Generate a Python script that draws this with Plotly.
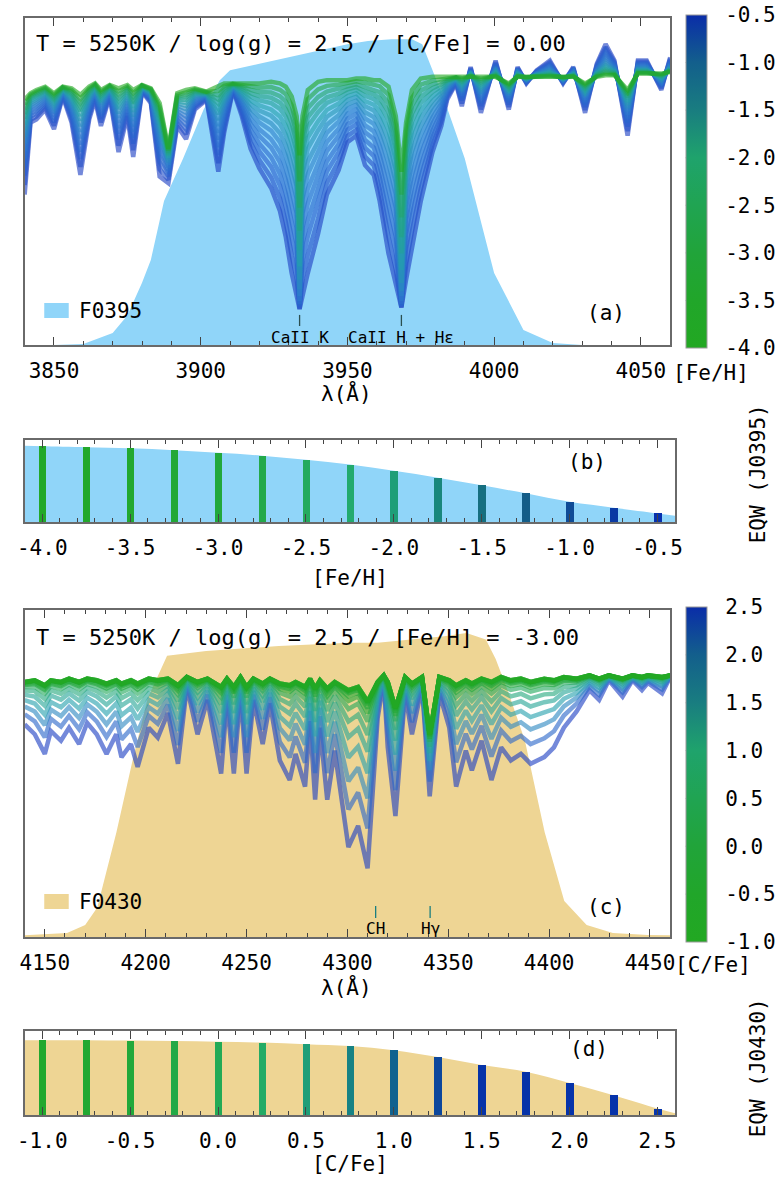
import numpy as np
import plotly.graph_objects as go
from plotly.colors import sample_colorscale

W, H = 782, 1185
MONO = "DejaVu Sans Mono"

# ---------------- data ----------------
feh_values = [-4.0, -3.75, -3.5, -3.25, -3.0, -2.75, -2.5, -2.25, -2.0, -1.75, -1.5, -1.25, -1.0, -0.75, -0.5]
cfe_values = [-1.0, -0.75, -0.5, -0.25, 0.0, 0.25, 0.5, 0.75, 1.0, 1.25, 1.5, 1.75, 2.0, 2.25, 2.5]

# panel (a): spectra, [Fe/H] series (most metal-poor and most metal-rich)
wl_a = [3840, 3842, 3844, 3847, 3850, 3853, 3856, 3859, 3862, 3864, 3866, 3869, 3872, 3875, 3877,
        3880, 3883, 3886, 3889, 3892, 3895, 3898, 3902, 3906, 3908, 3911, 3914, 3917, 3920, 3924,
        3927, 3929, 3931, 3932.7, 3933.7, 3934.7, 3936.5, 3940, 3943, 3947, 3950, 3953, 3956, 3959,
        3961, 3964, 3966.5, 3968.4, 3970, 3972, 3975, 3979, 3982, 3984, 3987, 3989, 3992, 3995.5,
        4000.5, 4005, 4008, 4011, 4014.5, 4019, 4023.5, 4027, 4031, 4035, 4038, 4041, 4045.5, 4049,
        4052, 4057, 4060]
flux_a_poor = [0.75, 0.77, 0.78, 0.79, 0.77, 0.79, 0.785, 0.765, 0.79, 0.80, 0.78, 0.795, 0.785, 0.795, 0.78,
               0.795, 0.785, 0.74, 0.60, 0.77, 0.78, 0.785, 0.775, 0.79, 0.80, 0.80, 0.80, 0.80, 0.80, 0.805,
               0.80, 0.79, 0.76, 0.70, 0.58, 0.70, 0.78, 0.805, 0.81, 0.81, 0.81, 0.815, 0.815, 0.81,
               0.81, 0.79, 0.70, 0.53, 0.68, 0.78, 0.815, 0.82, 0.82, 0.82, 0.82, 0.82, 0.82, 0.82,
               0.82, 0.80, 0.82, 0.82, 0.82, 0.82, 0.82, 0.82, 0.80, 0.82, 0.825, 0.825, 0.78, 0.83,
               0.83, 0.83, 0.835]
flux_a_rich = [0.46, 0.68, 0.69, 0.72, 0.66, 0.76, 0.68, 0.52, 0.69, 0.75, 0.67, 0.76, 0.59, 0.70, 0.575,
               0.775, 0.74, 0.515, 0.495, 0.67, 0.63, 0.72, 0.75, 0.53, 0.65, 0.78, 0.70, 0.60, 0.54, 0.48,
               0.41, 0.33, 0.22, 0.15, 0.11, 0.15, 0.22, 0.34, 0.46, 0.535, 0.62, 0.64, 0.55, 0.52,
               0.44, 0.28, 0.18, 0.115, 0.20, 0.30, 0.44, 0.59, 0.67, 0.75, 0.80, 0.73, 0.85, 0.71,
               0.87, 0.72, 0.85, 0.80, 0.84, 0.87, 0.80, 0.85, 0.71, 0.86, 0.92, 0.87, 0.64, 0.87,
               0.87, 0.78, 0.88]
# relative position of each [Fe/H] spectrum between the two extremes
weight_a = [0.0, 0.05, 0.10, 0.15, 0.20, 0.26, 0.32, 0.39, 0.46, 0.54, 0.62, 0.71, 0.80, 0.90, 1.0]
# CaII K and H core depths for each [Fe/H] spectrum
core_K_a = [0.58, 0.50, 0.42, 0.35, 0.29, 0.24, 0.20, 0.17, 0.15, 0.135, 0.125, 0.12, 0.115, 0.11, 0.11]
core_H_a = [0.53, 0.46, 0.39, 0.33, 0.28, 0.23, 0.19, 0.165, 0.15, 0.135, 0.125, 0.12, 0.118, 0.115, 0.115]
core_K_wl, core_H_wl = 3933.7, 3968.4

# filter F0395 transmission
filt_a_wl = [3840, 3850, 3860, 3870, 3875, 3880, 3883, 3887.5, 3894, 3901, 3906.5, 3910, 3920, 3930,
             3940, 3950, 3957, 3965, 3972, 3975.5, 3983, 3990, 4000, 4010, 4020, 4030, 4060]
filt_a_T = [0.0, 0.0, 0.003, 0.037, 0.09, 0.19, 0.26, 0.44, 0.57, 0.72, 0.81, 0.84, 0.86, 0.88,
            0.90, 0.92, 0.93, 0.935, 0.935, 0.92, 0.75, 0.57, 0.22, 0.046, 0.006, 0.0, 0.0]

# panel (b): EQW(J0395) vs [Fe/H]
eqw_b = [0.925, 0.913, 0.898, 0.875, 0.843, 0.809, 0.759, 0.701, 0.624, 0.540, 0.447, 0.350, 0.246, 0.174, 0.104]
eqw_b_edges_x = [-4.1, -0.4]
eqw_b_edges_y = [0.93, 0.077]
bar_colors_b = ["#22a82a", "#22a82c", "#22a830", "#22a836", "#22a83c", "#23a94a", "#24aa5e", "#23aa6e",
                "#1e9e78", "#19877c", "#166f80", "#135d88", "#0f4b96", "#0a3aa4", "#0630ae"]

# panel (c): spectra, [C/Fe] series
wl_c = [4140, 4145, 4150, 4153, 4158, 4162, 4167, 4171, 4175.7, 4180.6, 4185.4, 4188, 4192.7, 4196,
        4201.5, 4206, 4211, 4216, 4220.4, 4225.7, 4230.6, 4237.4, 4240.3, 4243.7, 4247, 4250, 4253.4,
        4258, 4261.6, 4266.5, 4271.4, 4274.3, 4279, 4281.5, 4284, 4286.4, 4290, 4293.7, 4300.5, 4305.3,
        4310, 4315, 4318, 4320, 4323.8, 4328.6, 4332, 4337, 4340.8, 4345.6, 4350.5, 4353.9, 4358.7,
        4361.7, 4366.5, 4371.4, 4376.2, 4381, 4386, 4390.8, 4397.6, 4402.4, 4407.3, 4413.6, 4420,
        4424.8, 4429.6, 4436.4, 4441.3, 4446, 4449, 4456, 4460]
flux_c_poor = [0.78, 0.785, 0.77, 0.785, 0.78, 0.79, 0.78, 0.79, 0.785, 0.775, 0.785, 0.775, 0.785, 0.775,
               0.79, 0.785, 0.79, 0.77, 0.795, 0.78, 0.79, 0.765, 0.79, 0.765, 0.795, 0.765, 0.79,
               0.775, 0.79, 0.775, 0.77, 0.78, 0.765, 0.79, 0.76, 0.785, 0.76, 0.78, 0.755, 0.765,
               0.72, 0.78, 0.80, 0.78, 0.70, 0.795, 0.775, 0.795, 0.62, 0.795, 0.785, 0.77, 0.785,
               0.775, 0.79, 0.78, 0.795, 0.785, 0.79, 0.78, 0.79, 0.785, 0.795, 0.79, 0.80,
               0.79, 0.80, 0.79, 0.80, 0.795, 0.80, 0.795, 0.80]
flux_c_rich = [0.65, 0.62, 0.56, 0.63, 0.60, 0.64, 0.59, 0.655, 0.62, 0.56, 0.62, 0.55, 0.59, 0.52,
               0.64, 0.61, 0.685, 0.53, 0.765, 0.62, 0.725, 0.50, 0.725, 0.50, 0.745, 0.50, 0.725,
               0.59, 0.715, 0.54, 0.48, 0.56, 0.46, 0.66, 0.42, 0.64, 0.42, 0.57, 0.275, 0.34,
               0.21, 0.67, 0.785, 0.58, 0.37, 0.745, 0.62, 0.765, 0.43, 0.745, 0.64, 0.46, 0.57,
               0.51, 0.60, 0.48, 0.58, 0.54, 0.56, 0.53, 0.55, 0.58, 0.64, 0.69, 0.755,
               0.725, 0.785, 0.735, 0.785, 0.755, 0.777, 0.745, 0.795]
weight_c = [0.0, 0.0, 0.0, 0.005, 0.01, 0.02, 0.04, 0.07, 0.12, 0.20, 0.30, 0.43, 0.58, 0.76, 1.0]

# filter F0430 transmission
filt_c_wl = [4140, 4150, 4161, 4170, 4176, 4185.5, 4193.5, 4201, 4210.6, 4230, 4266, 4301, 4315, 4348,
             4359, 4368.6, 4373.5, 4380, 4388, 4397.8, 4407.5, 4418.6, 4431.6, 4449, 4460]
filt_c_T = [0.005, 0.008, 0.012, 0.037, 0.09, 0.32, 0.54, 0.73, 0.86, 0.875, 0.89, 0.90, 0.90, 0.92,
            0.93, 0.91, 0.85, 0.745, 0.60, 0.32, 0.11, 0.037, 0.012, 0.006, 0.005]

# panel (d): EQW(J0430) vs [C/Fe]
eqw_d = [0.89, 0.89, 0.886, 0.88, 0.872, 0.862, 0.842, 0.82, 0.77, 0.69, 0.595, 0.515, 0.38, 0.235, 0.077]
eqw_d_edges_x = [-1.1, 2.6]
eqw_d_edges_y = [0.89, 0.02]
bar_colors_d = ["#22a82e", "#22a832", "#22a83a", "#23a946", "#23aa56", "#24ab66", "#1e9e78", "#178284",
                "#11628f", "#0d479c", "#0633a8", "#0633a8", "#0633aa", "#0633aa", "#0635ac"]

# spectral line identifications
lines_a = {"CaII K": 3933.7, "CaII H": 3968.4}
lines_c = {"CH": 4314.0, "Hγ": 4341.0}

# colour map (green -> blue), sampled from the colour bars
cmap = [[0.0, "rgb(34,168,34)"], [1/7, "rgb(33,166,42)"], [2/7, "rgb(33,164,58)"],
        [3/7, "rgb(32,164,82)"], [4/7, "rgb(31,163,108)"], [5/7, "rgb(25,125,128)"],
        [6/7, "rgb(19,95,140)"], [1.0, "rgb(10,45,168)"]]
# colours of the spectra as they appear (semi-transparent strokes)
line_cmap_a = [[0.0, "rgb(34,168,34)"], [0.15, "rgb(34,165,110)"], [0.35, "rgb(35,160,170)"],
               [0.6, "rgb(45,125,205)"], [0.85, "rgb(40,95,205)"], [1.0, "rgb(30,65,195)"]]
line_cmap_c = [[0.0, "rgb(34,168,34)"], [0.5, "rgb(34,168,60)"], [0.65, "rgb(40,170,130)"],
               [0.8, "rgb(40,160,180)"], [0.9, "rgb(50,120,205)"], [1.0, "rgb(30,65,195)"]]

FILL_A = "#90d5f9"
FILL_C = "#eed594"
LINE_ALPHA = 0.62

# ---------------- helpers ----------------
def px(x):
    return x / W

def py(y):
    return 1 - y / H

def rgba(c, a):
    c = c.strip()
    vals = c[c.index("(") + 1:c.index(")")].split(",")
    return "rgba(%d,%d,%d,%.2f)" % (float(vals[0]), float(vals[1]), float(vals[2]), a)

fig = go.Figure()

# ---------------- panel (a) ----------------
fig.add_trace(go.Scatter(x=filt_a_wl, y=filt_a_T, fill="tozeroy", fillcolor=FILL_A, mode="lines",
                         line=dict(width=0, color=FILL_A), xaxis="x", yaxis="y", showlegend=False,
                         hoverinfo="skip"))
wa = np.array(wl_a)
pa, ra = np.array(flux_a_poor), np.array(flux_a_rich)
assert len(wa) == len(pa) == len(ra)
kidx = int(np.argmin(np.abs(wa - core_K_wl)))
hidx = int(np.argmin(np.abs(wa - core_H_wl)))
for i in reversed(range(len(feh_values))):
    f = pa + weight_a[i] * (ra - pa)
    f[kidx] = core_K_a[i]
    f[hidx] = core_H_a[i]
    t = (feh_values[i] - feh_values[0]) / (feh_values[-1] - feh_values[0])
    col = sample_colorscale(line_cmap_a, [t])[0]
    fig.add_trace(go.Scatter(x=wa, y=f, mode="lines", line=dict(color=rgba(col, LINE_ALPHA), width=4.5),
                             xaxis="x", yaxis="y", showlegend=False, hoverinfo="skip"))

# ---------------- panel (b) ----------------
fx = [eqw_b_edges_x[0]] + feh_values + [eqw_b_edges_x[1]]
fy = [eqw_b_edges_y[0]] + eqw_b + [eqw_b_edges_y[1]]
fig.add_trace(go.Scatter(x=fx, y=fy, fill="tozeroy", fillcolor=FILL_A, mode="lines",
                         line=dict(width=0, color=FILL_A, shape="spline"), xaxis="x2", yaxis="y2",
                         showlegend=False, hoverinfo="skip"))
# bars on an overlaid subplot so they sit above the filled curve
fig.add_trace(go.Bar(x=feh_values, y=eqw_b, width=0.042, marker=dict(color=bar_colors_b, line=dict(width=0)),
                     xaxis="x5", yaxis="y5", showlegend=False, hoverinfo="skip"))

# ---------------- panel (c) ----------------
fig.add_trace(go.Scatter(x=filt_c_wl, y=filt_c_T, fill="tozeroy", fillcolor=FILL_C, mode="lines",
                         line=dict(width=0, color=FILL_C), xaxis="x3", yaxis="y3", showlegend=False,
                         hoverinfo="skip"))
wc = np.array(wl_c)
pc, rc = np.array(flux_c_poor), np.array(flux_c_rich)
assert len(wc) == len(pc) == len(rc)
for i in reversed(range(len(cfe_values))):
    f = pc + weight_c[i] * (rc - pc)
    t = (cfe_values[i] - cfe_values[0]) / (cfe_values[-1] - cfe_values[0])
    col = sample_colorscale(line_cmap_c, [t])[0]
    fig.add_trace(go.Scatter(x=wc, y=f, mode="lines", line=dict(color=rgba(col, LINE_ALPHA), width=4.5),
                             xaxis="x3", yaxis="y3", showlegend=False, hoverinfo="skip"))

# ---------------- panel (d) ----------------
fx = [eqw_d_edges_x[0]] + cfe_values + [eqw_d_edges_x[1]]
fy = [eqw_d_edges_y[0]] + eqw_d + [eqw_d_edges_y[1]]
fig.add_trace(go.Scatter(x=fx, y=fy, fill="tozeroy", fillcolor=FILL_C, mode="lines",
                         line=dict(width=0, color=FILL_C, shape="spline"), xaxis="x4", yaxis="y4",
                         showlegend=False, hoverinfo="skip"))
fig.add_trace(go.Bar(x=cfe_values, y=eqw_d, width=0.042, marker=dict(color=bar_colors_d, line=dict(width=0)),
                     xaxis="x6", yaxis="y6", showlegend=False, hoverinfo="skip"))

# ---------------- colour bars (dummy traces) ----------------
cb_a = dict(top=15, bottom=348, vmin=feh_values[0], vmax=feh_values[-1])
cb_c = dict(top=607, bottom=942, vmin=cfe_values[0], vmax=cfe_values[-1])
cb_left, cb_thick = 692, 21

def cbar(cb, tickvals):
    return dict(x=px(cb_left), xanchor="left", y=py((cb["top"] + cb["bottom"]) / 2), yanchor="middle",
                len=cb["bottom"] - cb["top"], lenmode="pixels", thickness=cb_thick, thicknessmode="pixels",
                outlinewidth=1, outlinecolor="#9a9a9a", xpad=0, ypad=0,
                tickvals=tickvals, ticktext=["%.1f" % v for v in tickvals],
                ticks="outside", ticklen=14, tickcolor="rgba(0,0,0,0)",
                tickfont=dict(family=MONO, size=21, color="black"))

ticks_cb_a = list(np.arange(-4.0, -0.49, 0.5))
ticks_cb_c = list(np.arange(-1.0, 2.51, 0.5))
fig.add_trace(go.Scatter(x=[None], y=[None], mode="markers", xaxis="x", yaxis="y", showlegend=False,
                         marker=dict(color=[cb_a["vmin"]], coloraxis="coloraxis")))
fig.add_trace(go.Scatter(x=[None], y=[None], mode="markers", xaxis="x3", yaxis="y3", showlegend=False,
                         marker=dict(color=[cb_c["vmin"]], coloraxis="coloraxis2")))

shapes = []
for cb, tv in ((cb_a, ticks_cb_a), (cb_c, ticks_cb_c)):
    for v in tv[1:-1]:
        yy = cb["bottom"] - (v - cb["vmin"]) / (cb["vmax"] - cb["vmin"]) * (cb["bottom"] - cb["top"])
        shapes.append(dict(type="line", xref="paper", yref="paper", x0=px(cb_left), x1=px(cb_left + cb_thick),
                           y0=py(yy), y1=py(yy), line=dict(color="rgba(20,40,40,0.85)", width=1.2)))

# spectral line markers
for name, wl in lines_a.items():
    shapes.append(dict(type="line", xref="x", yref="y", x0=wl, x1=wl, y0=0.058, y1=0.092,
                       line=dict(color="#2b4f4f", width=1.3)))
for name, wl in lines_c.items():
    shapes.append(dict(type="line", xref="x3", yref="y3", x0=wl, x1=wl, y0=0.058, y1=0.095,
                       line=dict(color="#1a7f80", width=1.3)))

# legend swatches
shapes.append(dict(type="rect", xref="paper", yref="paper", x0=px(37), x1=px(62), y0=py(318), y1=py(303),
                   fillcolor=FILL_A, line=dict(width=0)))
shapes.append(dict(type="rect", xref="paper", yref="paper", x0=px(37), x1=px(62), y0=py(909), y1=py(894),
                   fillcolor=FILL_C, line=dict(width=0)))

# ---------------- annotations ----------------
def ann(text, x, y, size=21, xanchor="center", yanchor="middle", angle=0, xref="paper", yref="paper"):
    return dict(text=text, x=x, y=y, xref=xref, yref=yref, xanchor=xanchor, yanchor=yanchor,
                showarrow=False, textangle=angle, font=dict(family=MONO, size=size, color="black"))

annotations = [
    ann("T = 5250K / log(g) = 2.5 / [C/Fe] = 0.00", px(27), py(43), size=22, xanchor="left"),
    ann("T = 5250K / log(g) = 2.5 / [Fe/H] = -3.00", px(27), py(637), size=22, xanchor="left"),
    ann("F0395", px(70), py(311), xanchor="left"),
    ann("F0430", px(70), py(902), xanchor="left"),
    ann("(a)", px(611), py(313)),
    ann("(b)", px(591), py(462)),
    ann("(c)", px(610), py(907)),
    ann("(d)", px(593), py(1049)),
    ann("CaII K", lines_a["CaII K"], py(337), size=16, yref="paper", xref="x"),
    ann("CaII H + Hε", px(345), py(337), size=16, xanchor="left"),
    ann("CH", lines_c["CH"], py(928), size=16, xref="x3"),
    ann("Hγ", lines_c["Hγ"], py(928), size=16, xref="x3"),
    ann("λ(Å)", px(346), py(393)),
    ann("λ(Å)", px(346), py(987)),
    ann("[Fe/H]", px(349), py(578)),
    ann("[C/Fe]", px(349), py(1164)),
    ann("[Fe/H]", px(718), py(373)),
    ann("[C/Fe]", px(720), py(965)),
    ann("EQW (J0395)", px(766), py(474), angle=-90),
    ann("EQW (J0430)", px(766), py(1068), angle=-90),
]

# ---------------- axes ----------------
def xax(domain, rng, minor, tickvals, ticktext, anchor):
    return dict(domain=domain, range=rng, anchor=anchor, showline=True, linecolor="#6a6a6a", linewidth=1.5,
                mirror="allticks", ticks="inside", ticklen=8, tickwidth=1.2, tickcolor="#444",
                tickvals=tickvals, ticktext=ticktext, showgrid=False, zeroline=False,
                ticklabelstandoff=6,
                tickfont=dict(family=MONO, size=21, color="black"),
                minor=dict(ticks="inside", ticklen=4, tickwidth=1, tickcolor="#444", dtick=minor, showgrid=False))

def yax(domain, anchor):
    return dict(domain=domain, range=[0, 1], anchor=anchor, showline=True, linecolor="#6a6a6a", linewidth=1.5,
                mirror=True, ticks="", showticklabels=False, showgrid=False, zeroline=False)

def x_overlay(base, rng, tickvals, anchor):
    # transparent overlay axis: only the major ticks along the bottom (drawn over the bars)
    return dict(overlaying=base, range=rng, anchor=anchor, showline=False, ticks="inside", ticklen=8,
                tickwidth=1.2, tickcolor="#444", tickvals=tickvals, showticklabels=False,
                showgrid=False, zeroline=False, side="bottom")

def y_overlay(base, anchor):
    return dict(overlaying=base, range=[0, 1], anchor=anchor, visible=False, showgrid=False, zeroline=False)

tv_a = [3850, 3900, 3950, 4000, 4050]
tv_c = [4150, 4200, 4250, 4300, 4350, 4400, 4450]
tv_b = [-4.0, -3.5, -3.0, -2.5, -2.0, -1.5, -1.0, -0.5]
tv_d = [-1.0, -0.5, 0.0, 0.5, 1.0, 1.5, 2.0, 2.5]
rng_b = [-4.1, -0.4]
rng_d = [-1.1, 2.6]

fig.update_layout(
    width=W, height=H, margin=dict(l=0, r=0, t=0, b=0),
    paper_bgcolor="white", plot_bgcolor="rgba(0,0,0,0)", showlegend=False, bargap=0,
    xaxis=xax([px(17), px(676)], [3840, 4060], 10, tv_a, [str(v) for v in tv_a], "y"),
    yaxis=yax([py(345), py(18)], "x"),
    xaxis2=xax([px(17), px(681)], rng_b, 0.1, tv_b, ["%.1f" % v for v in tv_b], "y2"),
    yaxis2=yax([py(522), py(440)], "x2"),
    xaxis3=xax([px(17), px(676)], [4140, 4460], 10, tv_c, [str(v) for v in tv_c], "y3"),
    yaxis3=yax([py(937), py(610)], "x3"),
    xaxis4=xax([px(17), px(681)], rng_d, 0.1, tv_d, ["%.1f" % v for v in tv_d], "y4"),
    yaxis4=yax([py(1115), py(1031)], "x4"),
    xaxis5=x_overlay("x2", rng_b, tv_b, "y5"),
    yaxis5=y_overlay("y2", "x5"),
    xaxis6=x_overlay("x4", rng_d, tv_d, "y6"),
    yaxis6=y_overlay("y4", "x6"),
    coloraxis=dict(colorscale=cmap, cmin=cb_a["vmin"], cmax=cb_a["vmax"], colorbar=cbar(cb_a, ticks_cb_a)),
    coloraxis2=dict(colorscale=cmap, cmin=cb_c["vmin"], cmax=cb_c["vmax"], colorbar=cbar(cb_c, ticks_cb_c)),
    shapes=shapes, annotations=annotations,
)

fig.write_html("out.html")
